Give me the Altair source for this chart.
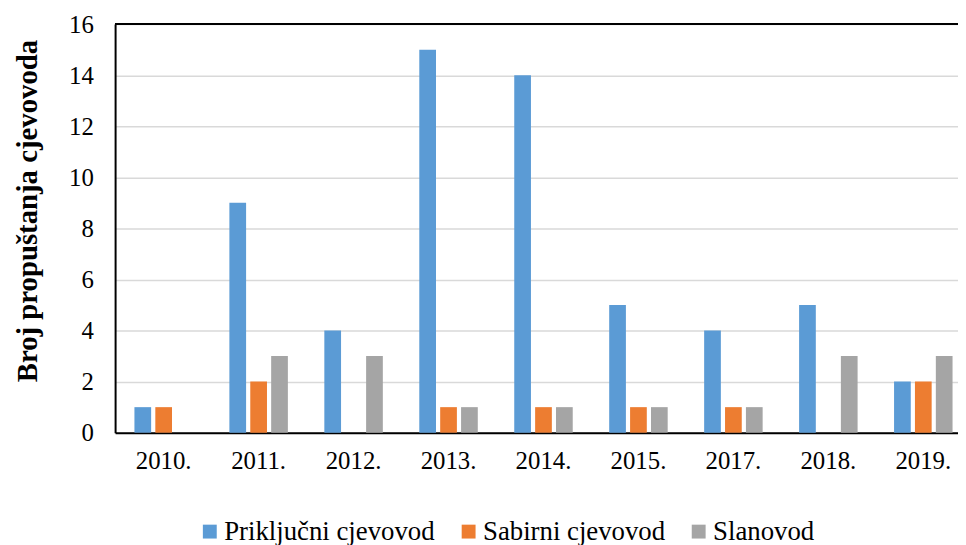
import altair as alt
import pandas as pd

years = ["2010.", "2011.", "2012.", "2013.", "2014.", "2015.", "2017.", "2018.", "2019."]
series = ["Priključni cjevovod", "Sabirni cjevovod", "Slanovod"]
prikljucni = [1, 9, 4, 15, 14, 5, 4, 5, 2]
sabirni = [1, 2, 0, 1, 1, 1, 1, 0, 2]
slanovod = [0, 3, 3, 1, 1, 1, 1, 3, 3]
colors = ["#5B9BD5", "#ED7D31", "#A5A5A5"]

rows = []
for name, vals in zip(series, [prikljucni, sabirni, slanovod]):
    for y, v in zip(years, vals):
        rows.append({"Godina": y, "Serija": name, "Vrijednost": v})
df = pd.DataFrame(rows)

font = "'Liberation Serif', 'Times New Roman', Tinos, 'DejaVu Serif', serif"

bars = alt.Chart(df).mark_bar().encode(
    x=alt.X("Godina:N", sort=years,
            scale=alt.Scale(paddingInner=0.384, paddingOuter=0.1305, align=0.78),
            axis=alt.Axis(title=None, labelAngle=0, labelFontSize=25, labelFont=font,
                          labelColor="black", ticks=False, domainColor="black",
                          domainWidth=2, labelPadding=16)),
    xOffset=alt.XOffset("Serija:N", sort=series,
                        scale=alt.Scale(paddingInner=0.2, paddingOuter=0)),
    y=alt.Y("Vrijednost:Q",
            scale=alt.Scale(domain=[0, 16]),
            axis=alt.Axis(values=list(range(0, 17, 2)), title="Broj propuštanja cjevovoda",
                          titleFont=font, titleFontSize=29, titleFontWeight="bold",
                          titleColor="black", titleAngle=-90, titleX=-88, titleY=188,
                          titleAlign="center", titleBaseline="middle",
                          labelFont=font, labelFontSize=25, labelColor="black",
                          ticks=False, labelPadding=22, domainColor="black",
                          domainWidth=2, gridColor="#d9d9d9", gridWidth=1.5)),
    color=alt.Color("Serija:N", sort=series,
                    scale=alt.Scale(domain=series, range=colors),
                    legend=alt.Legend(title=None, orient="none", legendX=82, legendY=498,
                                      direction="horizontal", symbolType="square",
                                      symbolSize=196, symbolStrokeWidth=0,
                                      labelFont=font, labelFontSize=27,
                                      labelColor="black", columnPadding=20,
                                      labelOffset=1, labelLimit=400)),
)

top_line = alt.Chart(df).mark_rule(color="black", strokeWidth=2).encode(
    y=alt.datum(16)
)

chart = alt.layer(bars, top_line).properties(
    width=850, height=412,
    autosize=alt.AutoSizeParams(type="none"),
    padding={"left": 108, "top": 14, "right": 0, "bottom": 111},
).configure_view(
    stroke=None
)

chart.save("out.html", embed_options={"renderer": "svg", "actions": False})
